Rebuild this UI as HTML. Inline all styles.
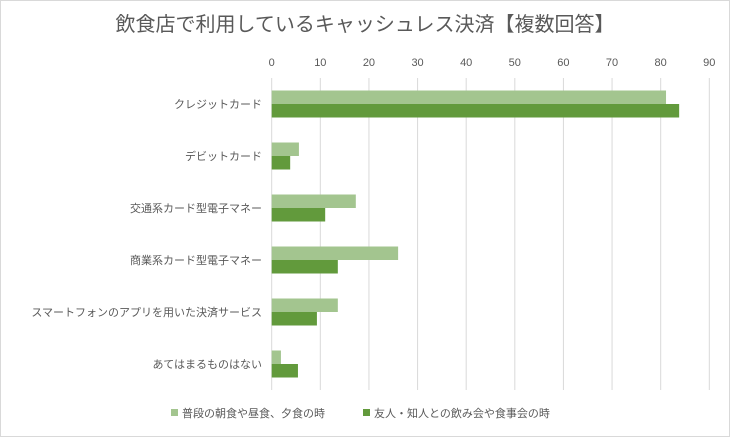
<!DOCTYPE html>
<html><head><meta charset="utf-8"><style>
body{margin:0;background:#fff}
svg text{font-family:"Liberation Sans","Noto Sans CJK JP",sans-serif;fill:#595959}
</style></head><body>
<svg width="730" height="437" xmlns="http://www.w3.org/2000/svg">
<rect x="0.5" y="0.5" width="729" height="436" fill="#fff" stroke="#d9d9d9"/>
<text x="365" y="31" text-anchor="middle" font-size="20">飲食店で利用しているキャッシュレス決済【複数回答】</text>
<g id="grid"></g><g id="bars"></g><g id="labels"></g>
<g>
<rect x="171" y="409" width="7" height="7" fill="#a3c58f"/>
<text x="182" y="417" font-size="11">普段の朝食や昼食、夕食の時</text>
<rect x="363" y="409" width="7" height="7" fill="#629a3c"/>
<text x="374" y="417" font-size="11">友人・知人との飲み会や食事会の時</text>
</g>
</svg>
<script>
const categories=["クレジットカード","デビットカード","交通系カード型電子マネー","商業系カード型電子マネー","スマートフォンのアプリを用いた決済サービス","あてはまるものはない"];
const usualValues=[81.1,5.6,17.3,26.0,13.6,1.9];
const partyValues=[83.8,3.8,11.0,13.6,9.3,5.4];
const ticks=[0,10,20,30,40,50,60,70,80,90];
const NS="http://www.w3.org/2000/svg";
const x0=271.7,x1=709.3,yTop=78,yBot=390,maxV=90;
const xs=v=>x0+(x1-x0)*v/maxV;
const band=(yBot-yTop)/categories.length;
function mk(t,a,p){const e=document.createElementNS(NS,t);for(const k in a)e.setAttribute(k,a[k]);p.appendChild(e);return e;}
const g=document.getElementById('grid'),b=document.getElementById('bars'),l=document.getElementById('labels');
ticks.forEach(t=>{
 const ln=mk('line',{x1:xs(t),x2:xs(t),y1:yTop,y2:yBot,stroke:'#d9d9d9','stroke-width':1},g);
 
 
 const tx=mk('text',{x:xs(t),y:66,'text-anchor':'middle','font-size':11},l);
 tx.textContent=t;
 
 
});
const bh=13.5;
categories.forEach((c,i)=>{
 const cy=yTop+band*i+band/2;
 const r1=mk('rect',{x:x0,y:cy-bh,width:xs(usualValues[i])-x0,height:bh,fill:'#a3c58f'},b);
 
 
 const r2=mk('rect',{x:x0,y:cy,width:xs(partyValues[i])-x0,height:bh,fill:'#629a3c'},b);
 
 
 const tx=mk('text',{x:262,y:cy+4,'text-anchor':'end','font-size':11},l);
 tx.textContent=c;
 
 
});
</script>
</body></html>
